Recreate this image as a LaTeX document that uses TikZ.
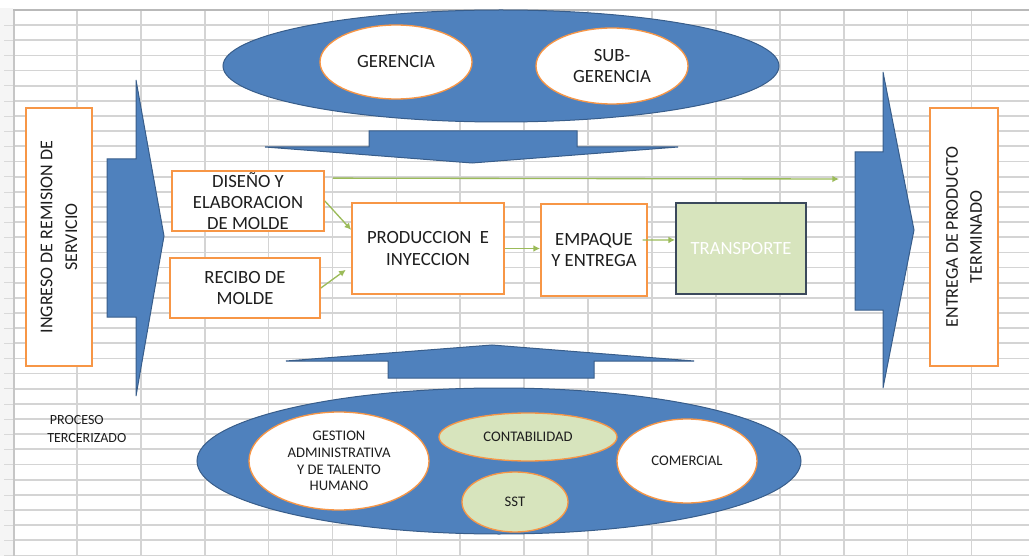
\documentclass[tikz,border=0pt]{standalone}
\usepackage{fontspec}
\setmainfont{Carlito}
\usetikzlibrary{arrows.meta,shapes.geometric}

\definecolor{azul}{RGB}{79,129,189}
\definecolor{azulborde}{RGB}{56,93,138}
\definecolor{naranja}{RGB}{247,150,70}
\definecolor{verde}{RGB}{155,187,89}
\definecolor{verdeclaro}{RGB}{215,228,189}
\definecolor{rejilla}{RGB}{212,212,212}
\definecolor{pizarra}{RGB}{59,73,92}
\definecolor{texto}{RGB}{30,30,30}

\begin{document}
\begin{tikzpicture}[x=0.75pt,y=0.75pt,yscale=-1,xscale=1,
	caja/.style={draw=naranja,line width=1.3pt,fill=white,text=texto,align=center,inner sep=0pt,font=\fontsize{14}{16}\selectfont},
	elipse/.style={ellipse,draw=naranja,line width=1pt,fill=white,text=texto,align=center,inner sep=0pt,font=\fontsize{11}{12.5}\selectfont},
	bloque/.style={draw=azulborde,fill=azul,line width=0.75pt},
	flecha/.style={draw=verde,line width=1pt,-{Latex[length=5pt,width=5pt]}}]
	\useasboundingbox (0,0) rectangle (1029,556);
	
	%Shape: Grid (hoja de calculo)
	\fill[gray!8] (0,8) rectangle (13,556);
	\foreach \j in {1,...,36}{
		\draw[gray!30] (4,{10+15.15*\j}) -- (13,{10+15.15*\j});
		\draw[rejilla,line width=1.3pt] (13,{10+15.15*\j}) -- (1029,{10+15.15*\j});
	}
	\foreach \i in {1,...,15}
		\draw[rejilla,line width=1.3pt] ({13+63.9*\i},10) -- ({13+63.9*\i},556);
	\draw[gray!45,line width=1.5pt] (13.5,9) -- (13.5,556);
	\draw[gray!55,line width=1pt] (13,10) -- (1029,10);
	
	%Shape: Ellipse
	\draw[bloque] (501,66) ellipse [x radius=278, y radius=56];
	%Shape: Ellipse
	\draw[bloque] (499,461) ellipse [x radius=302, y radius=73];
	%Shape: Down Arrow
	\draw[bloque] (369,131) -- (577,131) -- (577,147) -- (678,147) -- (472,163) -- (265,147) -- (369,147) -- cycle;
	%Shape: Up Arrow
	\draw[bloque] (388,378) -- (388,361) -- (286,361) -- (492,345) -- (694,361) -- (594,361) -- (594,378) -- cycle;
	%Shape: Right Arrow
	\draw[bloque] (107,159) -- (136,159) -- (136,80) -- (164,236) -- (136,396) -- (136,317) -- (107,317) -- cycle;
	%Shape: Right Arrow
	\draw[bloque] (855,152) -- (883,152) -- (883,72) -- (914,230) -- (883,388) -- (883,310) -- (855,310) -- cycle;
	
	% Text Node
	\node[caja,rotate=90,minimum width=193.5pt,minimum height=49.5pt,font=\fontsize{13.5}{18.5}\selectfont] (ingreso) at (59,237) {INGRESO DE REMISION DE\\SERVICIO};
	% Text Node
	\node[caja,rotate=90,minimum width=193.5pt,minimum height=51pt,font=\fontsize{13.5}{18}\selectfont] (entrega) at (964,237) {ENTREGA DE PRODUCTO\\TERMINADO};
	% Text Node
	\node[caja,minimum width=114pt,minimum height=45pt,font=\fontsize{14}{15.5}\selectfont] (diseno) at (248,201) {DISEÑO Y\\ELABORACION\\DE MOLDE};
	% Text Node
	\node[caja,minimum width=112.5pt,minimum height=45pt] (recibo) at (245,288) {RECIBO DE\\MOLDE};
	% Text Node
	\node[caja,minimum width=114pt,minimum height=68.25pt] (produccion) at (428,248.5) {PRODUCCION\ \ E\\INYECCION};
	% Text Node
	\node[caja,minimum width=79.5pt,minimum height=69pt] (empaque) at (594,250) {EMPAQUE\\Y ENTREGA};
	% Text Node
	\node[caja,draw=pizarra,fill=verdeclaro,text=white,minimum width=97.5pt,minimum height=68.25pt] (transporte) at (741,248.5) {TRANSPORTE};
	
	% Text Node
	\node[elipse,minimum width=114pt,minimum height=55.5pt,font=\fontsize{14}{16}\selectfont] (gerencia) at (396,62) {GERENCIA};
	% Text Node
	\node[elipse,minimum width=114pt,minimum height=57pt,font=\fontsize{14}{16}\selectfont] (subgerencia) at (612,66) {SUB-\\GERENCIA};
	% Text Node
	\node[elipse,minimum width=135pt,minimum height=73.5pt] (gestion) at (339,461) {GESTION\\ADMINISTRATIVA\\Y DE TALENTO\\HUMANO};
	% Text Node
	\node[elipse,fill=verdeclaro,minimum width=133.5pt,minimum height=36pt] (contabilidad) at (528,437) {CONTABILIDAD};
	% Text Node
	\node[elipse,fill=verdeclaro,minimum width=79.5pt,minimum height=45pt] (sst) at (515,502) {SST};
	% Text Node
	\node[elipse,minimum width=105pt,minimum height=63pt] (comercial) at (687,461) {COMERCIAL};
	% Text Node
	\node[anchor=north west,align=left,inner sep=0pt,text=texto,font=\fontsize{10.5}{13.5}\selectfont] (tercerizado) at (47,415) {\hspace{2pt}PROCESO\\TERCERIZADO};
	
	% Connectors
	\coordinate (salida) at (839,179);
	\draw[flecha] (diseno.north east) ++(8,8) -- (salida);
	\draw[flecha] (diseno.east) -- ([yshift=-14pt]produccion.west);
	\draw[flecha] (recibo.east) -- ([shift={(-4pt,16pt)}]produccion.west);
	\draw[flecha] (produccion.east) -- (produccion.east -| empaque.west);
	\draw[flecha] ([shift={(-4pt,-7.5pt)}]empaque.east) -- ([yshift=-6.4pt]transporte.west);
	
\end{tikzpicture}
\end{document}
